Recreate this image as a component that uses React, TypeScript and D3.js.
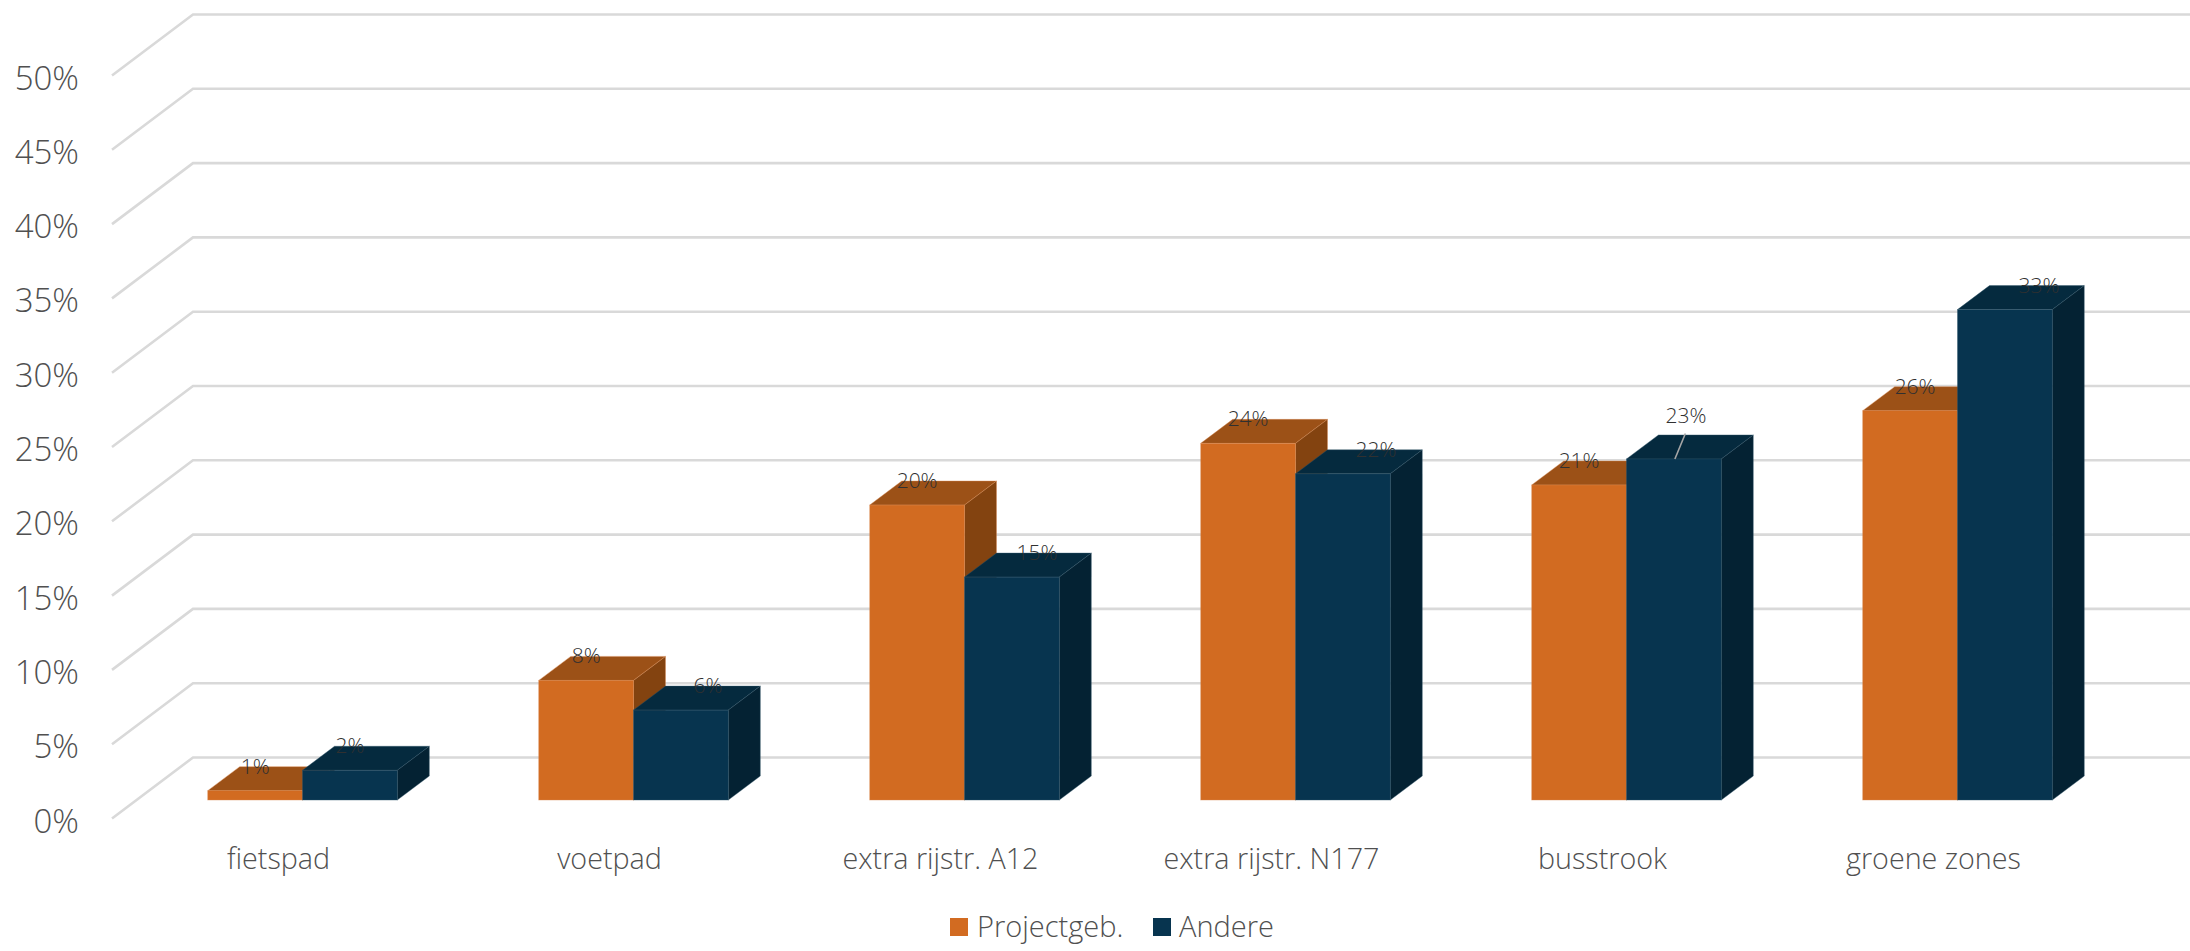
import React from "react";
import * as d3 from "d3";

const categories = ["fietspad", "voetpad", "extra rijstr. A12", "extra rijstr. N177", "busstrook", "groene zones"];
const seriesNames = ["Projectgeb.", "Andere"];
const projectgebValues = [0.63, 8.05, 19.85, 24.0, 21.2, 26.2];
const andereValues = [2.0, 6.05, 15.0, 21.95, 22.95, 33.0];
const projectgebLabels = ["1%", "8%", "20%", "24%", "21%", "26%"];
const andereLabels = ["2%", "6%", "15%", "22%", "23%", "33%"];
const yTicks = [0, 5, 10, 15, 20, 25, 30, 35, 40, 45, 50];

const W = 2190, H = 951;
const FONT = "'Open Sans', sans-serif";
const ORANGE = { front: "#D26B21", top: "#9C5117", side: "#834310", edge: "#DA8A52" };
const BLUE = { front: "#07344F", top: "#052A3E", side: "#042233", edge: "#2F5569" };

const y = d3.scaleLinear().domain([0, 50]).range([757.5, 14.5]);
const x = d3.scaleBand<string>().domain(categories).range([137, 2123]).paddingInner(0.4273).paddingOuter(0.2137);
const barW = x.bandwidth() / 2;

// depth of the 3D floor and of the bars
const floorDX = 81, floorDY = 61, barDX = 32, barDY = 24, planeDY = 42.5;
const labelDX: number[][] = [[0, 0, 0, 0, 0, 5], [0, 27, 25, 33, 12, 34]];
const labelDY: number[][] = [[-17, -17, -17, -17, -17, -17], [-17, -17, -17, -17, -36, -17]];
const poly = d3.line<[number, number]>();

function Bar({ left, value, colors }: { left: number; value: number; colors: typeof ORANGE }) {
  const top = y(value) + planeDY, base = y(0) + planeDY, r = left + barW;
  const p = (pts: [number, number][]) => poly(pts)! + "Z";
  const edge = { stroke: colors.edge, strokeWidth: 0.8, strokeOpacity: 0.5 };
  return (
    <g>
      <path d={p([[left, top], [r, top], [r + barDX, top - barDY], [left + barDX, top - barDY]])} fill={colors.top} {...edge} />
      <path d={p([[r, top], [r + barDX, top - barDY], [r + barDX, base - barDY], [r, base]])} fill={colors.side} {...edge} />
      <rect x={left} y={top} width={barW} height={base - top} fill={colors.front} {...edge} />
    </g>
  );
}

export default function App() {
  const series = [
    { vals: projectgebValues, labels: projectgebLabels, colors: ORANGE },
    { vals: andereValues, labels: andereLabels, colors: BLUE },
  ];
  const idx23 = 4;
  const c23 = x(categories[idx23])! + barW * 1.5;
  return (
    <svg width={W} height={H} style={{ position: "absolute", left: 0, top: 0, background: "#fff" }} fontFamily={FONT}>
      {yTicks.map((t) => (
        <g key={t}>
          <path
            d={poly([[112, y(t) + floorDY], [112 + floorDX, y(t)], [W, y(t)]])!}
            fill="none" stroke="#D9D9D9" strokeWidth={2.6}
          />
          <text x={79} y={y(t) + 75} textAnchor="end" fontSize={33} fontWeight={300} fill="#505050">{t}%</text>
        </g>
      ))}
      {categories.map((c, i) => (
        <g key={c}>
          {series.map((s, k) => (
            <Bar key={k} left={x(c)! + k * barW} value={s.vals[i]} colors={s.colors} />
          ))}
        </g>
      ))}
      <line x1={c23 + 11.5} y1={y(andereValues[idx23]) + planeDY - 25.5} x2={c23 + 1} y2={y(andereValues[idx23]) + planeDY}
        stroke="#A6A6A6" strokeWidth={1.6} />
      {categories.map((c, i) =>
        series.map((s, k) => (
          <text key={c + k} x={x(c)! + barW * (k + 0.5) + labelDX[k][i]} y={y(s.vals[i]) + planeDY + labelDY[k][i]}
            textAnchor="middle" fontSize={21} fontWeight={300} fill="#303030">{s.labels[i]}</text>
        ))
      )}
      {categories.map((c, i) => (
        <text key={c} x={x(c)! + barW - 24} y={869} textAnchor="middle" fontSize={28.7} fontWeight={300} fill="#505050">{c}</text>
      ))}
      <rect x={950} y={918} width={18} height={18} fill={ORANGE.front} />
      <text x={977} y={937} fontSize={29} fontWeight={300} fill="#505050">{seriesNames[0]}</text>
      <rect x={1153} y={918} width={18} height={18} fill={BLUE.front} />
      <text x={1179} y={937} fontSize={29} fontWeight={300} fill="#505050">{seriesNames[1]}</text>
    </svg>
  );
}
